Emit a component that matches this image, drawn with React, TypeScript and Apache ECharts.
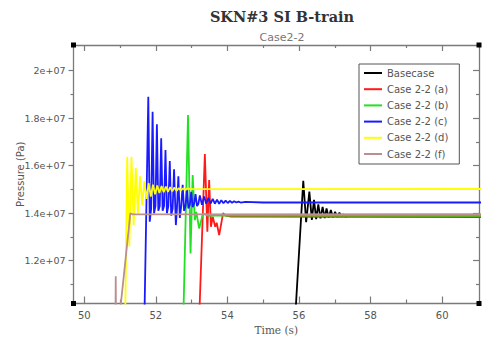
import React, { useEffect, useRef } from "react";
import * as echarts from "echarts";

type Pt = [number, number];

const seriesNames = ["Basecase", "Case 2-2 (a)", "Case 2-2 (b)", "Case 2-2 (c)", "Case 2-2 (d)", "Case 2-2 (f)"];
const seriesColors = ["#000000", "#ff1a1a", "#22e022", "#1a1aff", "#ffff00", "#bc8f8f"];

const basecase: Pt[] = [
  [49.7, 9e6], [55.87, 9e6], [56.12, 1.536e7], [56.2, 1.362e7], [56.29, 1.491e7], [56.36, 1.372e7],
  [56.42, 1.456e7], [56.48, 1.375e7], [56.54, 1.437e7], [56.6, 1.378e7], [56.66, 1.427e7], [56.72, 1.38e7],
  [56.77, 1.42e7], [56.83, 1.382e7], [56.89, 1.413e7], [56.95, 1.383e7], [57.01, 1.406e7], [57.07, 1.384e7],
  [57.13, 1.402e7], [57.19, 1.385e7], [57.24, 1.395e7], [57.3, 1.386e7], [57.4, 1.39e7], [57.6, 1.388e7],
  [61.1, 1.388e7],
];

const caseA: Pt[] = [
  [49.7, 9e6], [53.2, 9e6], [53.37, 1.649e7], [53.44, 1.322e7], [53.49, 1.54e7], [53.54, 1.343e7],
  [53.59, 1.385e7], [53.66, 1.343e7], [53.7, 1.36e7], [53.77, 1.308e7], [53.88, 1.4e7], [53.95, 1.39e7],
  [54.1, 1.386e7], [61.1, 1.384e7],
];

const caseB: Pt[] = [
  [49.7, 9e6], [52.76, 9e6], [52.9, 1.813e7], [52.97, 1.231e7], [53.03, 1.561e7], [53.09, 1.371e7],
  [53.13, 1.406e7], [53.21, 1.336e7], [53.32, 1.4e7], [53.45, 1.39e7], [61.1, 1.389e7],
];

const caseC: Pt[] = [
  [49.7, 9e6], [51.675, 9e6],
  [51.79, 1.89e7], [51.83, 1.364e7], [51.87, 1.42e7],
  [51.91, 1.827e7], [51.95, 1.4e7], [51.99, 1.43e7],
  [52.03, 1.774e7], [52.07, 1.41e7], [52.11, 1.43e7],
  [52.15, 1.715e7], [52.19, 1.41e7], [52.23, 1.43e7],
  [52.27, 1.666e7], [52.31, 1.4e7], [52.35, 1.43e7],
  [52.39, 1.62e7], [52.43, 1.39e7], [52.47, 1.42e7],
  [52.51, 1.585e7], [52.56, 1.35e7], [52.59, 1.42e7],
  [52.63, 1.555e7], [52.67, 1.38e7], [52.71, 1.43e7],
  [52.75, 1.52e7], [52.79, 1.41e7], [52.83, 1.43e7],
  [52.87, 1.5e7], [52.91, 1.42e7], [52.95, 1.435e7],
  [52.99, 1.49e7], [53.03, 1.425e7], [53.07, 1.44e7],
  [53.11, 1.48e7], [53.15, 1.43e7], [53.19, 1.44e7],
  [53.23, 1.475e7], [53.29, 1.435e7],
  [53.35, 1.47e7], [53.41, 1.44e7], [53.47, 1.465e7], [53.53, 1.44e7], [53.59, 1.46e7], [53.65, 1.44e7],
  [53.71, 1.457e7], [53.77, 1.44e7], [53.83, 1.455e7], [53.89, 1.442e7], [53.95, 1.453e7], [54.01, 1.443e7],
  [54.07, 1.452e7], [54.13, 1.444e7], [54.19, 1.45e7], [54.25, 1.445e7], [54.31, 1.449e7], [54.37, 1.445e7],
  [54.5, 1.448e7], [55, 1.445e7], [61.1, 1.445e7],
];

const caseD: Pt[] = [
  [49.7, 9e6], [51.14, 9e6], [51.2, 1.638e7], [51.26, 1.26e7], [51.32, 1.638e7], [51.38, 1.35e7],
  [51.44, 1.59e7], [51.5, 1.4e7], [51.56, 1.555e7], [51.62, 1.435e7], [51.68, 1.535e7], [51.74, 1.46e7],
  [51.8, 1.527e7], [51.86, 1.47e7], [51.92, 1.52e7], [51.98, 1.48e7], [52.04, 1.517e7], [52.1, 1.485e7],
  [52.16, 1.514e7], [52.22, 1.488e7], [52.28, 1.512e7], [52.34, 1.49e7], [52.4, 1.51e7], [52.46, 1.492e7],
  [52.52, 1.508e7], [52.58, 1.494e7], [52.64, 1.506e7], [52.7, 1.496e7], [52.76, 1.505e7], [52.82, 1.497e7],
  [52.88, 1.504e7], [53.0, 1.501e7], [61.1, 1.502e7],
];

const caseF: Pt[] = [
  [49.7, 9e6], [50.87, 9e6], [50.88, 1.135e7], [50.89, 9e6], [50.94, 9e6], [51.29, 1.4e7],
  [51.36, 1.395e7], [61.1, 1.396e7],
];

const seriesData = [basecase, caseA, caseB, caseC, caseD, caseF];

const xMin = 49.7;
const xMax = 61.03;
const yMin = 1.02e7;
const yMax = 2.108e7;
const xMajorTicks = [50, 52, 54, 56, 58, 60];
const xMinorTicks = [51, 53, 55, 57, 59];
const yMajorTicks = [1.2e7, 1.4e7, 1.6e7, 1.8e7, 2e7];
const yMinorTicks = [1.1e7, 1.3e7, 1.5e7, 1.7e7, 1.9e7];

const AXIS_COLOR = "#7a7a7a";
const LABEL_COLOR = "#555";

function sci(v: number): string {
  const e = Math.floor(Math.log10(v));
  const m = v / Math.pow(10, e);
  return `${+m.toFixed(2)}e+${String(e).padStart(2, "0")}`;
}

export default function App() {
  const ref = useRef<HTMLDivElement>(null);
  useEffect(() => {
    document.body.style.margin = "0";
    if (!ref.current) return;
    const chart = echarts.init(ref.current, null, { renderer: "svg" });
    const line = { show: true, lineStyle: { color: AXIS_COLOR, width: 1.3 } };
    const xAx = (position: string, ticks: number[], len: number, opts: any = {}) => ({
      type: "value",
      position,
      min: xMin,
      max: xMax,
      splitLine: { show: false },
      axisLine: { show: false },
      axisTick: { show: true, inside: true, length: len, customValues: ticks, lineStyle: { color: AXIS_COLOR, width: 1.2 } },
      axisLabel: { show: false },
      ...opts,
    });
    const yAx = (position: string, ticks: number[], len: number, inside: boolean, opts: any = {}) => ({
      type: "value",
      position,
      min: yMin,
      max: yMax,
      splitLine: { show: false },
      axisLine: { show: false },
      axisTick: { show: true, inside, length: len, customValues: ticks, lineStyle: { color: AXIS_COLOR, width: 1.2 } },
      axisLabel: { show: false },
      ...opts,
    });
    chart.setOption({
      animation: false,
      backgroundColor: "#ffffff",
      title: [
        {
          text: "SKN#3 SI B-train",
          left: 277,
          top: 4,
          textAlign: "center",
          textStyle: { fontFamily: "DejaVu Serif", fontWeight: "bold", fontSize: 14.5, color: "#333" },
        },
        {
          text: "Case2-2",
          left: 277,
          top: 27,
          textAlign: "center",
          textStyle: { fontFamily: "DejaVu Sans", fontWeight: "normal", fontSize: 11, color: "#777" },
        },
      ],
      grid: { left: 73.5, right: 3, top: 45, bottom: 33.5, containLabel: false, outerBoundsMode: "none" },
      legend: {
        data: seriesNames,
        orient: "vertical",
        left: 359,
        top: 64,
        padding: [4, 11, 5, 5],
        itemGap: 6.2,
        itemWidth: 18,
        itemHeight: 2,
        icon: "rect",
        backgroundColor: "#fff",
        borderColor: "#555",
        borderWidth: 1,
        borderRadius: 0,
        textStyle: { fontFamily: "DejaVu Sans", fontSize: 10, color: LABEL_COLOR },
      },
      xAxis: [
        xAx("bottom", xMajorTicks, 7, {
          axisLine: line,
          axisLabel: {
            show: true,
            customValues: xMajorTicks,
            margin: 7,
            color: LABEL_COLOR,
            fontFamily: "DejaVu Sans",
            fontSize: 10,
          },
          name: "Time (s)",
          nameLocation: "middle",
          nameGap: 21,
          nameMoveOverlap: false,
          nameTextStyle: { fontFamily: "DejaVu Serif", fontSize: 10.5, color: LABEL_COLOR },
        }),
        xAx("bottom", xMinorTicks, 4),
        xAx("top", xMajorTicks, 6, { axisLine: line }),
        xAx("top", xMinorTicks, 3),
      ],
      yAxis: [
        yAx("left", yMajorTicks, 5, false, {
          axisLine: line,
          axisLabel: {
            show: true,
            customValues: yMajorTicks,
            margin: 8,
            color: LABEL_COLOR,
            fontFamily: "DejaVu Sans",
            fontSize: 9.5,
            formatter: (v: number) => sci(v),
          },
          name: "Pressure (Pa)",
          nameLocation: "middle",
          nameGap: 48,
          nameMoveOverlap: false,
          nameTextStyle: { fontFamily: "DejaVu Sans", fontSize: 10, color: LABEL_COLOR },
        }),
        yAx("left", yMinorTicks, 3, false),
        yAx("right", yMajorTicks, 6, true, { axisLine: line }),
        yAx("right", yMinorTicks, 3, true),
      ],
      series: seriesNames.map((name, i) => ({
        name,
        type: "line",
        xAxisIndex: 0,
        yAxisIndex: 0,
        data: seriesData[i],
        showSymbol: false,
        symbol: "none",
        clip: true,
        color: seriesColors[i],
        lineStyle: { color: seriesColors[i], width: 1.8 },
      })),
    });
    const c0 = chart.convertToPixel({ xAxisIndex: 0, yAxisIndex: 0 }, [xMin, yMin]) as number[];
    const c1 = chart.convertToPixel({ xAxisIndex: 0, yAxisIndex: 0 }, [xMax, yMax]) as number[];
    const corners = [
      [c0[0], c0[1]], [c1[0], c0[1]], [c0[0], c1[1]], [c1[0], c1[1]],
    ];
    chart.setOption({
      graphic: corners.map(([x, y]) => ({
        type: "rect",
        shape: { x: x - 2.5, y: y - 2.5, width: 5, height: 5 },
        style: { fill: "#000" },
        z: 100,
      })),
    });
    return () => chart.dispose();
  }, []);
  return <div ref={ref} style={{ width: 482, height: 337 }} />;
}
